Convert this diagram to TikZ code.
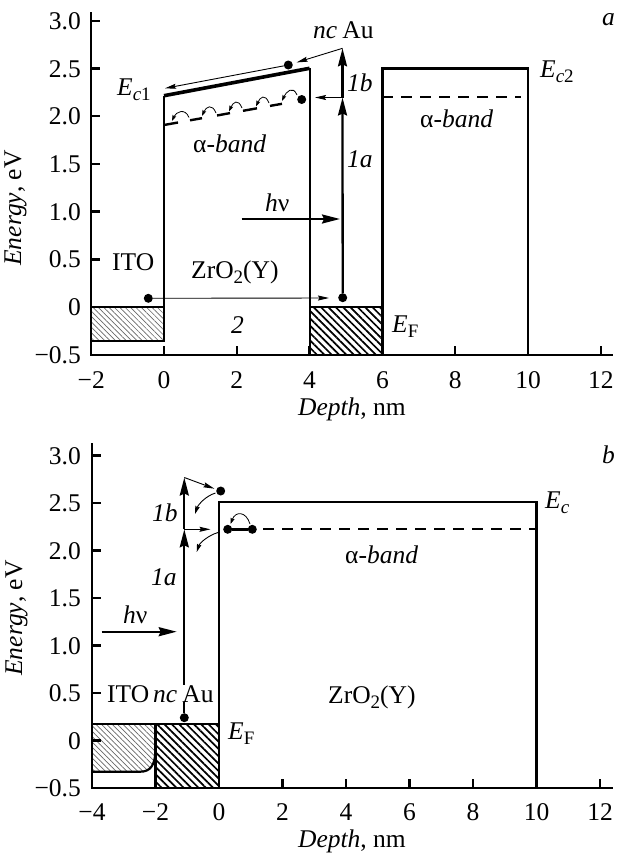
\documentclass[tikz,border=0pt]{standalone}
\usepackage{fontspec}
\setmainfont{Liberation Serif}
\usetikzlibrary{arrows.meta,patterns.meta}
\newcommand{\mysub}[1]{\raisebox{-0.22em}{\fontsize{19}{19}\selectfont #1}}
\begin{document}
\begin{tikzpicture}[x=1pt,y=-1pt,
  every node/.style={font=\fontsize{25.5}{30}\selectfont, inner sep=0pt},
  axis/.style={line width=2.4pt},
  box/.style={line width=2.2pt},
  topline/.style={line width=3.6pt},
  thinarr/.style={line width=0.9pt,-{Stealth[length=11pt,width=5pt,inset=1.5pt]}},
  midarr/.style={line width=0.9pt,-{Stealth[length=8pt,width=4.5pt,inset=1pt]}},
  hoparr/.style={line width=0.8pt,-{Stealth[length=6pt,width=4pt,inset=1pt]}},
  bigarr/.style={line width=2.3pt,-{Stealth[length=18pt,width=9pt,inset=2pt]}},
  dot/.style={circle,fill=black,inner sep=0pt,minimum size=9pt},
  itofill/.style={pattern={Lines[angle=-45,distance=3.8pt,line width=0.7pt]},pattern color=black!60},
  aufill/.style={pattern={Lines[angle=-45,distance=5.2pt,line width=1.7pt]},pattern color=black},
  dashline/.style={line width=2.2pt,dash pattern=on 11pt off 8pt},
  seg/.style={line width=2.4pt},
  lbl/.style={anchor=base west},
  tl/.style={anchor=base east},
  xl/.style={anchor=base}
]
\useasboundingbox (0,0) rectangle (616,854);

% ================= panel a =================
\path[itofill] (91,307) rectangle (164,340.7);
\path[aufill] (309.6,307) rectangle (382.4,354.7);
\draw[box] (91,307) -- (164,307) -- (164,340.7) -- (91,340.7);
\draw[box] (309.6,354.7) -- (309.6,307) -- (382.4,307) -- (382.4,354.7);
\draw[box] (164,340.7) -- (164,95.7);
\draw[topline] (164,95.7) -- (309.6,68.3);
\draw[box] (309.6,68.3) -- (309.6,307);
\draw[box] (382.4,307) -- (382.4,68.5) -- (528,68.5) -- (528,354.7);
\draw[dashline] (382.4,96.7) -- (521,96.7);
\draw[axis] (91,12) -- (91,354.7) -- (613,354.7);
\foreach \py/\t [count=\i] in {20.8/3.0,68.5/2.5,116.2/2.0,163.9/1.5,211.6/1.0,259.3/0.5,307/0,354.7/−0.5}{
  \draw[axis] (91,\py) -- (100,\py);
  \node[tl] (yta\i) at (81,\py+8.5) {\t};
}
\foreach \px/\t [count=\i] in {91.2/−2,164/0,236.8/2,309.6/4,382.4/6,455.2/8,528/10,600.8/12}{
  \draw[axis] (\px,354.7) -- (\px,346);
  \node[xl] (xta\i) at (\px,388) {\t};
}
\node[rotate=90,anchor=base] (ylaba) at (21,208) {\textit{Energy}, eV};
\node[xl] (xlaba) at (352,415) {\textit{Depth}, nm};

% alpha band hopping in layer 1
\draw[seg] (164,125) -- (178,122.5);
\draw[seg] (190,120.3) -- (202,118.2);
\draw[seg] (217,115.5) -- (230,113.1);
\draw[seg] (243,110.8) -- (257,108.3);
\draw[seg] (270,105.9) -- (282,103.8);
\node[dot] (ea4) at (301.7,99.5) {};
\foreach \sx/\sy/\ex/\ey [count=\i] in {297/95/282/101,269/103/256/106.5,242/108/229/111.5,216/113/202/116,189/117.5/172/121}{
  \coordinate (hs\i) at (\sx,\sy);
  \coordinate (he\i) at (\ex,\ey);
  \draw[hoparr] (hs\i) .. controls +(-4,-10) and +(4,-9) .. (he\i);
}

% electrons and arrows
\node[dot] (ea1) at (148.3,298.3) {};
\node[dot] (ea2) at (342.7,297.7) {};
\node[dot] (ea3) at (288.3,65) {};
\coordinate (ea1e) at (329,298);
\coordinate (ja) at (342.5,97.5);
\coordinate (ta) at (342.5,48.3);
\coordinate (hpa) at (315,97.5);
\coordinate (eca) at (165,88.3);
\coordinate (hla) at (241.7,219);
\coordinate (hra) at (340,219);
\draw[thinarr] (ea1) -- (ea1e);
\draw[bigarr] (ea2) -- (ja);
\draw[bigarr] (ja) -- (ta);
\draw[thinarr] (ja) -- (hpa);
\draw[thinarr, shorten >=4pt] (ta) -- (ea3);
\draw[thinarr] (ea3) -- (eca);
\draw[bigarr] (hla) -- (hra);

% labels a
\node[lbl] (ncaua) at (313,38) {\textit{nc}\hspace{0.2em}Au};
\node[lbl] (Ec1) at (117,95) {\textit{E}\mysub{\textit{c}1}};
\node[lbl] (l1ba) at (347,91.5) {\textit{1b}};
\node[lbl] (l1aa) at (347,167) {\textit{1a}};
\node[lbl] (hva) at (265,211.5) {\textit{h}ν};
\node[lbl] (itoa) at (112,270) {ITO};
\node[lbl] (zra) at (191,278) {ZrO\mysub{2}(Y)};
\node[xl] (twoa) at (237.5,333) {\textit{2}};
\node[lbl] (EFa) at (392,332) {\textit{E}\mysub{F}};
\node[lbl] (ala) at (193,152) {α-\textit{band}};
\node[lbl] (alb) at (420,127.5) {α-\textit{band}};
\node[lbl] (Ec2) at (540,77) {\textit{E}\mysub{\textit{c}2}};
\node[lbl] (pa) at (602,25) {\textit{a}};

% ================= panel b =================
\path[itofill] (92,724.3) -- (155.5,724.3) -- (155.5,748.3) .. controls (155.5,766) and (150,771.7) .. (140,771.7) -- (92,771.7) -- cycle;
\path[aufill] (155.5,724.3) rectangle (219,788);
\draw[box] (155.5,748.3) .. controls (155.5,766) and (150,771.7) .. (140,771.7) -- (92,771.7);
\draw[box] (92,724.3) -- (219,724.3);
\draw[box] (155.5,724.3) -- (155.5,788);
\draw[box] (219,788) -- (219,501.7) -- (536.5,501.7) -- (536.5,788);
\draw[axis] (92,443) -- (92,788) -- (613,788);
\foreach \py/\t [count=\i] in {455.5/3.0,503/2.5,550.5/2.0,598/1.5,645.5/1.0,693/0.5,740.5/0,788/−0.5}{
  \draw[axis] (92,\py) -- (101,\py);
  \node[tl] (ytb\i) at (81,\py+8.5) {\t};
}
\foreach \px/\t [count=\i] in {92/−4,155.5/−2,219/0,282.5/2,346/4,409.5/6,473/8,536.5/10,600/12}{
  \draw[axis] (\px,788) -- (\px,779);
  \node[xl] (xtb\i) at (\px,820) {\t};
}
\node[rotate=90,anchor=base] (ylabb) at (22,618) {\textit{Energy}, eV};
\node[xl] (xlabb) at (352,847) {\textit{Depth}, nm};

% alpha band
\node[dot] (db1) at (227.7,529.3) {};
\node[dot] (db2) at (252.3,529.3) {};
\coordinate (dend) at (536.5,529.3);
\coordinate (dstart) at (263,529.3);
\draw[seg] (db1) -- (db2);
\draw[dashline] (dstart) -- (dend);
\coordinate (db2s) at (250,524);
\coordinate (db1e) at (230.5,524);
\draw[hoparr] (db2s) .. controls +(-4,-13) and +(5,-13) .. (db1e);

% electrons and arrows
\node[dot] (eb0) at (184.3,717.7) {};
\node[dot] (eb1) at (220.7,491) {};
\coordinate (jb) at (184.3,529.3);
\coordinate (tb) at (184.3,477.5);
\coordinate (hpb) at (210.5,529.3);
\coordinate (hlb) at (101.7,631.7);
\coordinate (hrb) at (176.7,631.7);
\coordinate (cb1s) at (215.5,493);
\coordinate (cb1e) at (195,514);
\coordinate (cb2s) at (218,532.5);
\coordinate (cb2e) at (196.7,552);
\draw[bigarr] (eb0) -- (jb);
\draw[bigarr] (jb) -- (tb);
\draw[thinarr] (jb) -- (hpb);
\draw[thinarr, shorten >=2pt] (tb) -- (eb1);
\draw[midarr] (cb1s) .. controls +(-10,3) and +(3,-9) .. (cb1e);
\draw[midarr] (cb2s) .. controls +(-10,3) and +(3,-9) .. (cb2e);
\draw[bigarr] (hlb) -- (hrb);

% labels b
\node[lbl] (itob) at (107,702) {ITO};
\node[lbl,fill=white] (ncaub) at (153,702) {\textit{nc}\hspace{0.2em}Au};
\node[lbl] (l1bb) at (152,521.5) {\textit{1b}};
\node[lbl] (l1ab) at (151,585) {\textit{1a}};
\node[lbl] (hvb) at (123,623) {\textit{h}ν};
\node[lbl] (EFb) at (228,739) {\textit{E}\mysub{F}};
\node[lbl] (zrb) at (328,703) {ZrO\mysub{2}(Y)};
\node[lbl] (alc) at (345,563) {α-\textit{band}};
\node[lbl] (Ecb) at (545,508) {\textit{E}\mysub{\textit{c}}};
\node[lbl] (pb) at (602,463) {\textit{b}};
\end{tikzpicture}
\end{document}
